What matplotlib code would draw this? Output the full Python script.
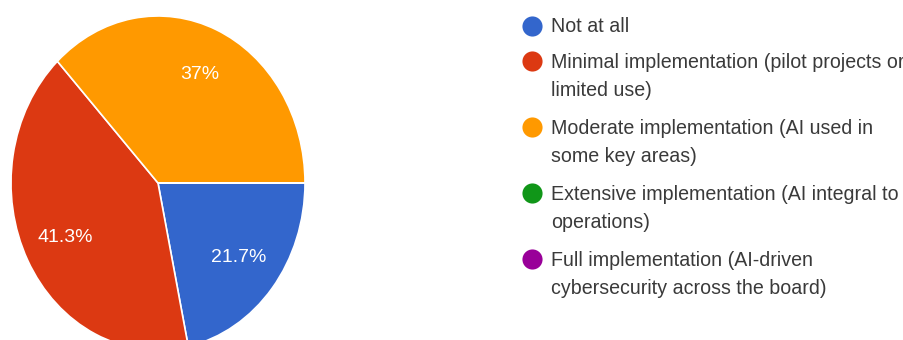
import math
import matplotlib
matplotlib.use("Agg")
import matplotlib.pyplot as plt

categories = [
    "Not at all",
    "Minimal implementation (pilot projects or\nlimited use)",
    "Moderate implementation (AI used in\nsome key areas)",
    "Extensive implementation (AI integral to\noperations)",
    "Full implementation (AI-driven\ncybersecurity across the board)",
]
shares = [21.7, 41.3, 37.0, 0.0, 0.0]
colors = ["#3366cc", "#dc3912", "#ff9900", "#109618", "#990099"]

plt.rcParams["font.family"] = ["Liberation Sans", "DejaVu Sans"]

W, H = 904, 340
fig = plt.figure(figsize=(W / 100, H / 100), dpi=100)

# pie axes: slightly taller than wide, running off the bottom edge
cx, cy, rx, ry = 158, 183, 147, 167
ax = fig.add_axes([(cx - rx) / W, (H - cy - ry) / H, 2 * rx / W, 2 * ry / H])


def pct_label(p):
    s = f"{p:.1f}"
    if s.endswith(".0"):
        s = s[:-2]
    return s + "%"


ax.pie(
    shares,
    colors=colors,
    startangle=0,
    counterclock=False,
    radius=1.0,
    wedgeprops=dict(edgecolor="white", linewidth=1.2),
)
total = sum(shares)
theta = 0.0
for v in shares:
    if v > 0:
        mid = math.radians(theta - 360 * v / total / 2)
        ax.text(0.71 * math.cos(mid), 0.71 * math.sin(mid), pct_label(100 * v / total),
                ha="center", va="center", color="white", fontsize=14)
    theta -= 360 * v / total
ax.set_aspect("auto")
ax.set_xlim(-1, 1)
ax.set_ylim(-1, 1)
ax.axis("off")

# legend drawn entry by entry
mark_x, text_x = 532, 551
y = 26
line_h = 29
for name, col in zip(categories, colors):
    fig.add_artist(plt.Line2D([mark_x / W], [1 - y / H], marker="o", markersize=14.5,
                              color=col, markeredgewidth=0, linestyle="none"))
    lines = name.split("\n")
    for i, ln in enumerate(lines):
        fig.text(text_x / W, 1 - (y + 1 + i * line_h) / H, ln, ha="left", va="center",
                 fontsize=14.1, color="#3a3a3a")
    y += 35 + line_h * (len(lines) - 1) + (2 if len(lines) > 1 else 0)

fig.savefig("out.png", dpi=100, facecolor="white")
